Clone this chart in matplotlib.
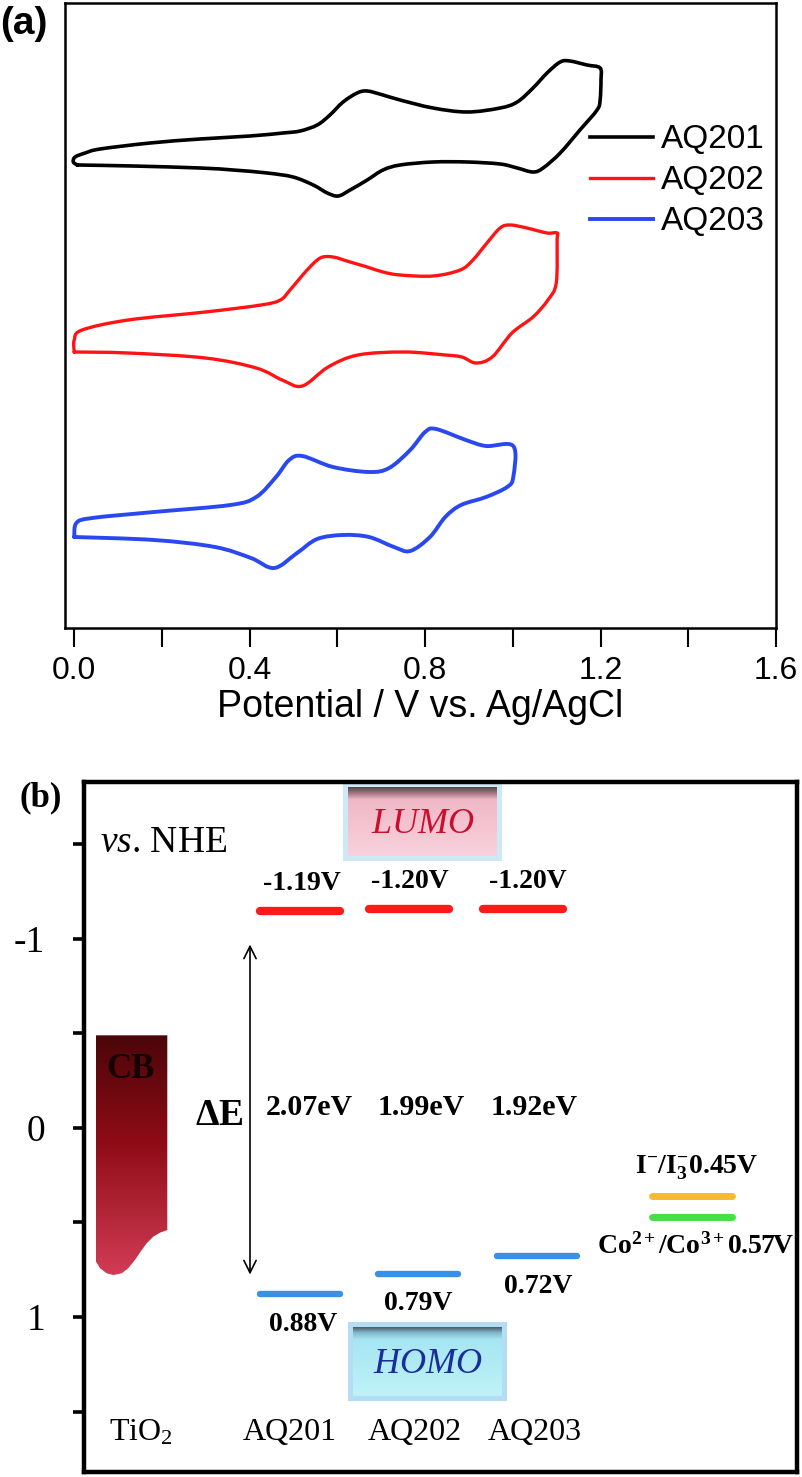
import numpy as np
import matplotlib
matplotlib.use("Agg")
import matplotlib.pyplot as plt
from matplotlib.path import Path
from matplotlib.patches import PathPatch, Rectangle
from matplotlib.lines import Line2D
from matplotlib.colors import LinearSegmentedColormap
from matplotlib.ticker import MultipleLocator, FixedLocator

plt.rcParams['mathtext.fontset'] = 'custom'
plt.rcParams['mathtext.rm'] = 'Liberation Serif'
plt.rcParams['mathtext.it'] = 'Liberation Serif:italic'
plt.rcParams['mathtext.bf'] = 'Liberation Serif:bold'

# ---------------- Panel (a) data: cyclic voltammograms (potential V, current a.u.) ----------------
cv_names = ["AQ201", "AQ202", "AQ203"]
cv_colors = ["#000000", "#ff1414", "#2a48f0"]

aq201_v = [0.007, -0.002, 0.002, 0.025, 0.059, 0.173, 0.287, 0.401, 0.476, 0.515, 0.554, 0.583, 0.613,
           0.645, 0.668, 0.704, 0.743, 0.818, 0.896, 0.971, 1.010, 1.046, 1.078, 1.108, 1.130, 1.169,
           1.199, 1.201, 1.199, 1.192, 1.153, 1.108, 1.069, 1.046, 1.010, 0.971, 0.896, 0.818, 0.743,
           0.704, 0.668, 0.629, 0.602, 0.577, 0.545, 0.499, 0.440, 0.362, 0.287, 0.134, 0.007]
aq201_i = [46.3, 46.6, 47.1, 47.5, 47.9, 48.5, 48.9, 49.2, 49.5, 49.7, 50.3, 51.3, 52.6,
           53.5, 53.7, 53.3, 52.8, 52.0, 51.6, 52.0, 52.6, 54.0, 55.5, 56.6, 56.7, 56.3,
           56.0, 54.8, 52.8, 51.8, 49.8, 47.5, 46.0, 45.6, 46.0, 46.4, 46.6, 46.6, 46.3,
           45.8, 44.8, 43.8, 43.2, 43.5, 44.3, 45.1, 45.5, 45.8, 46.0, 46.2, 46.3]

aq202_v = [0.000, 0.000, 0.018, 0.123, 0.299, 0.426, 0.470, 0.492, 0.531, 0.561, 0.590, 0.629, 0.668,
           0.704, 0.743, 0.818, 0.880, 0.909, 0.941, 0.971, 0.994, 1.032, 1.078, 1.101, 1.101, 1.099,
           1.080, 1.046, 0.998, 0.953, 0.916, 0.884, 0.846, 0.752, 0.647, 0.579, 0.520, 0.474, 0.415,
           0.299, 0.123, 0.000]
aq202_i = [27.6, 28.8, 29.8, 30.8, 31.6, 32.3, 32.8, 33.8, 35.8, 37.0, 37.1, 36.6, 36.1,
           35.6, 35.3, 35.2, 35.8, 36.8, 38.5, 40.0, 40.3, 40.0, 39.5, 39.5, 38.8, 34.5,
           32.8, 31.1, 29.5, 27.1, 26.5, 27.1, 27.3, 27.6, 27.3, 26.1, 24.2, 24.8, 26.0,
           27.0, 27.5, 27.6]

aq203_v = [0.000, 0.005, 0.041, 0.182, 0.356, 0.415, 0.460, 0.490, 0.520, 0.590, 0.672, 0.718, 0.766,
           0.800, 0.825, 0.893, 0.939, 1.001, 1.001, 0.987, 0.939, 0.882, 0.846, 0.811, 0.766, 0.729,
           0.672, 0.613, 0.554, 0.508, 0.456, 0.403, 0.321, 0.182, 0.000]
aq203_i = [9.1, 10.5, 11.0, 11.6, 12.3, 13.1, 15.1, 16.8, 17.2, 16.1, 15.6, 16.0, 17.8,
           19.6, 19.9, 18.8, 18.2, 18.2, 15.1, 14.1, 13.1, 12.3, 11.1, 9.1, 7.7, 8.1,
           9.1, 9.3, 8.9, 7.5, 6.0, 7.0, 8.1, 8.8, 9.1]

x_ticks_a = [0.0, 0.4, 0.8, 1.2, 1.6]

# ---------------- Panel (b) data: energy levels (V vs NHE) ----------------
dyes = ["AQ201", "AQ202", "AQ203"]
lumo_level = [-1.15, -1.16, -1.16]          # drawn bar positions
homo_level = [0.88, 0.77, 0.68]
lumo_text = ["-1.19V", "-1.20V", "-1.20V"]
homo_text = ["0.88V", "0.79V", "0.72V"]
gap_text = ["2.07eV", "1.99eV", "1.92eV"]
redox_level = [0.36, 0.47]
redox_text = [r'$\mathbf{I^{-}/I_{3}^{-}0.45V}$', r'$\mathbf{Co^{2+}/Co^{3+}0.57V}$']
redox_colors = ["#f5b935", "#45e045"]
cb_top = -0.49
y_major = [-1, 0, 1]
y_major_labels = ["-1", "0", "1"]
y_minor = [-1.5, -0.5, 0.5, 1.5]

# ---------------- figure ----------------
W, H = 803, 1477
fig = plt.figure(figsize=(W / 100, H / 100), dpi=100)

def axrect(l, t, r, b):
    return [l / W, 1 - b / H, (r - l) / W, (b - t) / H]


def smooth_curve(xs, ys):
    """Catmull-Rom curve through the data points (open ends), as cubic Bezier path."""
    P = np.column_stack([xs, ys]).astype(float)
    n = len(P)
    verts = [P[0]]
    codes = [Path.MOVETO]
    for k in range(n - 1):
        p0 = P[k - 1] if k > 0 else P[k]
        p1, p2 = P[k], P[k + 1]
        p3 = P[k + 2] if k + 2 < n else P[k + 1]
        c1 = p1 + (p2 - p0) / 6.0
        c2 = p2 - (p3 - p1) / 6.0
        verts += [c1, c2, p2]
        codes += [Path.CURVE4] * 3
    return Path(np.array(verts), codes)

# ===== Panel (a) =====
ax = fig.add_axes(axrect(65, 3, 776, 628))
sans = "Liberation Sans"
handles = []
for v, i, c, n, lw in zip([aq201_v, aq202_v, aq203_v], [aq201_i, aq202_i, aq203_i],
                          cv_colors, cv_names, [2.6, 2.4, 2.8]):
    ax.add_patch(PathPatch(smooth_curve(v, i), facecolor='none', edgecolor=c, lw=lw,
                           joinstyle='round', capstyle='round'))
    handles.append(Line2D([], [], color=c, lw=lw, label=n))
ax.set_xlim(-0.021, 1.6)
ax.set_ylim(0, 62.5)
ax.xaxis.set_major_locator(FixedLocator(x_ticks_a))
ax.xaxis.set_minor_locator(MultipleLocator(0.2))
ax.set_xticklabels([f"{t:.1f}" for t in x_ticks_a], fontfamily=sans, fontsize=23)
ax.tick_params(axis='x', which='both', direction='out', length=14, width=1.5, pad=6)
ax.set_yticks([])
for s in ax.spines.values():
    s.set_linewidth(1.8)
ax.set_xlabel("Potential / V vs. Ag/AgCl", fontfamily=sans, fontsize=27, labelpad=2)
ax.legend(handles=handles, loc='upper left', bbox_to_anchor=(0.738, 0.806), frameon=False,
          prop={'family': sans, 'size': 24}, handlelength=1.9, handletextpad=0.25,
          labelspacing=0.3, borderpad=0, borderaxespad=0)
fig.text(0 / W, 1 - 24 / H, "(a)", fontfamily=sans, fontweight='bold', fontsize=28,
         ha='left', va='center')

# ===== Panel (b) =====
bx = fig.add_axes(axrect(84, 782, 797, 1472))
serif = "Liberation Serif"
bx.set_xlim(0, 713)
YLIM = (1.82, -1.83)
bx.set_ylim(*YLIM)
for s in bx.spines.values():
    s.set_linewidth(3.2)
bx.set_xticks([])
bx.yaxis.set_major_locator(FixedLocator(y_major))
bx.yaxis.set_minor_locator(FixedLocator(y_minor))
bx.set_yticklabels(y_major_labels, fontfamily=serif, fontsize=27)
bx.tick_params(axis='y', which='both', direction='out', length=8, width=2.6, pad=20)

# column layout (x positions in panel units)
lumo_x = [216, 325, 439]
homo_x = [216, 334, 453]
lumo_tx = [218, 326, 444]
gap_tx = [225, 337, 450]
homo_tx = [219, 334, 454]
name_x = [206, 331, 451]
half = 40

for k in range(3):
    bx.plot([lumo_x[k] - half, lumo_x[k] + half], [lumo_level[k]] * 2, color="#ff1a1a",
            lw=6, solid_capstyle='round')
    bx.plot([homo_x[k] - half, homo_x[k] + half], [homo_level[k]] * 2, color="#3a8fe6",
            lw=4.6, solid_capstyle='round')
    bx.text(lumo_tx[k], lumo_level[k] - 0.145, lumo_text[k], fontfamily=serif, fontweight='bold',
            fontsize=20, ha='center', va='center')
    bx.text(homo_tx[k], homo_level[k] + 0.16, homo_text[k], fontfamily=serif, fontweight='bold',
            fontsize=20, ha='center', va='center')
    bx.text(gap_tx[k], -0.106, gap_text[k], fontfamily=serif, fontweight='bold',
            fontsize=21.5, ha='center', va='center')
    bx.text(name_x[k], 1.61, dyes[k], fontfamily=serif, fontsize=23, ha='center', va='center')

bx.text(57, 1.61, r'TiO$_2$', fontfamily=serif, fontsize=23, ha='center', va='center')

# redox couples
for lv, c in zip(redox_level, redox_colors):
    bx.plot([608 - half, 608 + half], [lv, lv], color=c, lw=5, solid_capstyle='round')
bx.text(613, 0.21, redox_text[0], fontsize=20, ha='center', va='center')
bx.text(611, 0.62, redox_text[1], fontsize=20, ha='center', va='center')

# vs. NHE
bx.text(16, -1.508, r'$\mathit{vs}$. NHE', fontfamily=serif, fontsize=27, ha='left', va='center')

# Delta E with double arrow
bx.text(135, -0.07, r'$\mathbf{\Delta E}$', fontsize=27, ha='center', va='center')
bx.annotate("", xy=(166, -0.985), xytext=(166, 0.79),
            arrowprops=dict(arrowstyle='<->', lw=1.2, color='black', mutation_scale=22))

# gradient helper
def gradient_box(x0, x1, v_top, v_bot, colors, clip=None, z=2):
    cmap = LinearSegmentedColormap.from_list("g", colors)
    grad = np.linspace(0, 1, 256).reshape(-1, 1)
    im = bx.imshow(grad, extent=(x0, x1, v_bot, v_top), origin='upper', aspect='auto',
                   cmap=cmap, zorder=z, interpolation='bilinear')
    if clip is not None:
        im.set_clip_path(clip)
    return im

# LUMO box
bx.add_patch(Rectangle((259, -1.825), 159, 0.415, facecolor="#cfe8f6", edgecolor='none', zorder=1))
gradient_box(264, 413, -1.80, -1.44, [(0, "#4a4a4a"), (0.08, "#a0707c"), (0.18, "#f0b8c6"),
                                     (1, "#f8d2dc")])
bx.text(338.5, -1.615, r'$\mathit{LUMO}$', fontsize=26, color="#c8102e", ha='center', va='center', zorder=3)

# HOMO box
bx.add_patch(Rectangle((264, 1.025), 159, 0.42, facecolor="#b4dcf2", edgecolor='none', zorder=1))
gradient_box(269, 418, 1.055, 1.42, [(0, "#505a66"), (0.08, "#80b8cc"), (0.18, "#a6e6f2"),
                                     (1, "#bff2f8")])
bx.text(343.5, 1.243, r'$\mathit{HOMO}$', fontsize=26, color="#1a2e9a", ha='center', va='center', zorder=3)

# TiO2 conduction band shape
cb_u = [12, 83.3, 83.3, 76, 69.3, 62.7, 57.7, 51, 44.3, 37.7, 29.3, 22.7, 16, 12]
cb_v = [cb_top, cb_top, 0.540, 0.554, 0.575, 0.610, 0.646, 0.698, 0.742, 0.769, 0.778, 0.769, 0.742, 0.707]
cb_path = Path(np.column_stack([cb_u, cb_v]))
patch = PathPatch(cb_path, facecolor='none', edgecolor='none', transform=bx.transData)
bx.add_patch(patch)
gradient_box(12, 83.3, cb_top, 0.78, [(0, "#4a0609"), (0.45, "#8e0c16"), (1, "#d23c55")], clip=patch)
bx.text(46, -0.31, "CB", fontfamily=serif, fontweight='bold', fontsize=25, color="#140000",
        ha='center', va='center', zorder=3)

bx.set_xlim(0, 713)
bx.set_ylim(*YLIM)

fig.text(20 / W, 1 - 798 / H, "(b)", fontfamily=serif, fontweight='bold', fontsize=25,
         ha='left', va='center')

fig.savefig("out.png", dpi=100)
